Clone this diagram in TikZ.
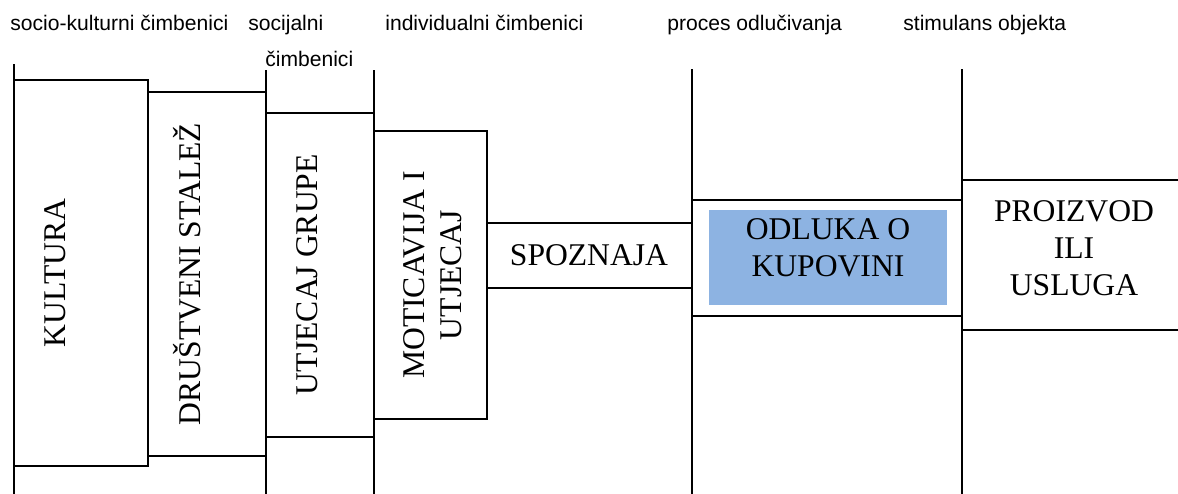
\documentclass[tikz,border=0pt]{standalone}
\usepackage{fontspec}
\setmainfont{Liberation Serif}
\setsansfont{Liberation Sans}
\usetikzlibrary{positioning}

\begin{document}
\begin{tikzpicture}[x=0.02cm, y=-0.02cm,
  rule/.style={line width=1.1pt},
  boxtext/.style={draw=none, inner sep=0pt, font=\fontsize{18}{21}\selectfont},
  vtext/.style={boxtext, rotate=90, anchor=base},
  head/.style={draw=none, inner sep=0pt, anchor=base west, font=\sffamily\fontsize{12}{14}\selectfont}]

\useasboundingbox (0,0) rectangle (1178,494);

% Column headings
\node[head] (lsocio) at (10,30) {socio-kulturni čimbenici};
\node[head] (lsoc) at (248,30) {socijalni};
\node[head] (lsocb) at (265,66) {čimbenici};
\node[head] (lind) at (385,30) {individualni čimbenici};
\node[head] (lproc) at (667,30) {proces odlučivanja};
\node[head] (lstim) at (903,30) {stimulans objekta};

% Column dividers
\foreach \cx/\cy in {14/64, 266/70, 374/70, 692/69, 962/69} {
  \draw[rule] (\cx,\cy) -- (\cx,494);
}

% Stage boxes
\draw[rule] (14,80) rectangle (148,466);
\draw[rule] (148,92) rectangle (266,456);
\draw[rule] (266,113) rectangle (374,437);
\draw[rule] (374,131) rectangle (487,419);
\draw[rule] (487,223) rectangle (692,288);
\draw[rule] (692,200) rectangle (962,316);
\fill[fill={rgb,255:red,141;green,179;blue,226}] (709,210) rectangle (947,305);
\draw[rule] (1178,180) -- (962,180) -- (962,330) -- (1178,330);

% Box labels
\node[vtext] (kultura) at (65,273) {KULTURA};
\node[vtext] (stalez) at (200,274) {DRUŠTVENI STALEŽ};
\node[vtext] (grupa) at (317,275) {UTJECAJ GRUPE};
\node[boxtext, rotate=90, align=center] (motiv) at (433,275) {MOTICAVIJA I\\UTJECAJ};
\node[boxtext] (spoznaja) at (589,255) {SPOZNAJA};
\node[boxtext, align=center] (odluka) at (828,248) {ODLUKA O\\KUPOVINI};
\node[boxtext, align=center] (proizvod) at (1074,248) {PROIZVOD\\ILI\\USLUGA};

\end{tikzpicture}
\end{document}
